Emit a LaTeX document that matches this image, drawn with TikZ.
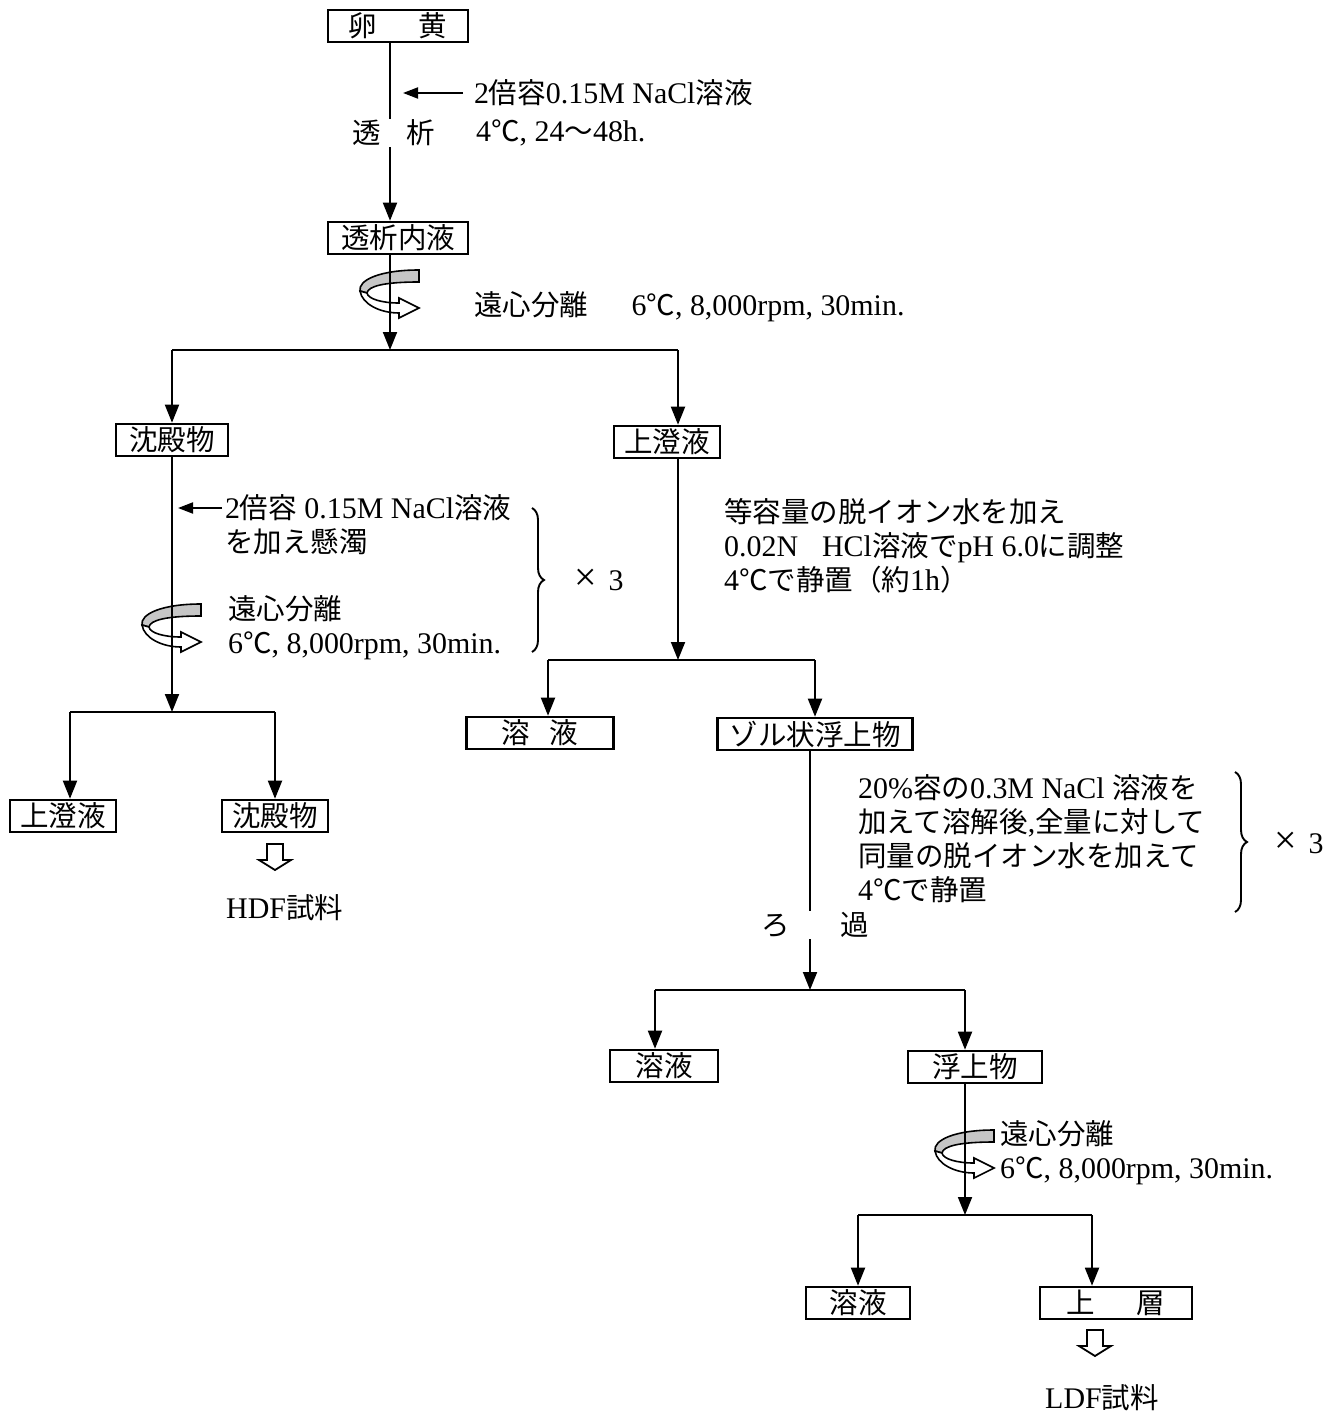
\documentclass[tikz,border=0pt]{standalone}
\usepackage{fontspec}
\setmainfont{Liberation Serif}[Scale=1.05]
\newfontfamily\jpfont{Noto Sans CJK JP}
\usetikzlibrary{arrows.meta,decorations.pathreplacing}

% switch to the Japanese font for CJK characters
\XeTeXinterchartokenstate=1
\newXeTeXintercharclass\jpclass
\count255="3000
\loop \XeTeXcharclass\count255=\jpclass \advance\count255 by 1 \ifnum\count255<"A000 \repeat
\count255="FF00
\loop \XeTeXcharclass\count255=\jpclass \advance\count255 by 1 \ifnum\count255<"FFF0 \repeat
\XeTeXcharclass"2103=\jpclass
\XeTeXinterchartoks 0 \jpclass = {\jpfont}
\XeTeXinterchartoks 4095 \jpclass = {\jpfont}
\XeTeXinterchartoks \jpclass 0 = {\rmfamily}
\XeTeXinterchartoks \jpclass 4095 = {\rmfamily}

\tikzset{
  box/.style={draw, line width=2.6pt, inner sep=0pt, minimum height=32pt},
  note/.style={anchor=west, inner sep=0pt, align=left},
  flow/.style={line width=1.9pt},
  arr/.style={flow, -{Triangle[length=18pt,width=14pt]}},
  sidearr/.style={flow, -{Triangle[length=15pt,width=11pt]}},
  brace/.style={flow, decorate, decoration={brace, amplitude=12pt}},
  spin/.pic={
    \filldraw[fill=gray!45, line width=1.6pt] (29,-20) .. controls (-10,-20) and (-32,-10) .. (-30,1) -- (-23,3) .. controls (-22,-4) and (-5,-8) .. (29,-8) -- cycle;
    \filldraw[fill=white, line width=1.6pt] (-30,1) .. controls (-28,14) and (-10,23) .. (9,23) -- (9,28) -- (29,18) -- (9,8) -- (9,13) .. controls (-8,13) and (-22,9) .. (-23,3) -- cycle;
  },
  hollow/.pic={
    \draw[line width=1.8pt] (-8,0) -- (-8,16) -- (-16,16) -- (0,26) -- (16,16) -- (8,16) -- (8,0) -- cycle;
  }
}

\begin{document}
\begin{tikzpicture}[x=1pt, y=-1pt, font=\fontsize{28.5}{34}\selectfont]
  \useasboundingbox (0,0) rectangle (1338,1415);

  % boxes
  \node[box, minimum width=140pt] (yolk) at (398,26) {卵\hspace{1.4em}黄};
  \node[box, minimum width=140pt] (inner) at (398,238) {透析内液};
  \node[box, minimum width=112pt] (ppt1) at (172,440) {沈殿物};
  \node[box, minimum width=106pt] (sup1) at (667,442) {上澄液};
  \node[box, minimum width=106pt] (sup2) at (63,816) {上澄液};
  \node[box, minimum width=106pt] (ppt2) at (275,816) {沈殿物};
  \node[box, minimum width=147pt] (sol1) at (540,733) {溶\hspace{0.65em}液};
  \node[box, minimum width=195pt] (sol) at (815,734) {ゾル状浮上物};
  \node[box, minimum width=108pt] (sol2) at (664,1066) {溶液};
  \node[box, minimum width=134pt] (float) at (975,1067) {浮上物};
  \node[box, minimum width=104pt] (sol3) at (858,1303) {溶液};
  \node[box, minimum width=152pt] (upper) at (1116,1303) {上\hspace{1.4em}層};

  % centrifuge marks
  \pic at (390,290) {spin};
  \pic at (172,624) {spin};
  \pic at (965,1150) {spin};

  % split points
  \coordinate (s1) at (390,350);
  \coordinate (b1l) at (172,350);
  \coordinate (b1r) at (678,350);
  \coordinate (s2) at (172,712);
  \coordinate (b2l) at (70,712);
  \coordinate (b2r) at (275,712);
  \coordinate (s3) at (678,660);
  \coordinate (b3l) at (548,660);
  \coordinate (b3r) at (815,660);
  \coordinate (s4) at (810,990);
  \coordinate (b4l) at (655,990);
  \coordinate (b4r) at (965,990);
  \coordinate (s5) at (965,1215);
  \coordinate (b5l) at (858,1215);
  \coordinate (b5r) at (1092,1215);
  \coordinate (in1) at (403,93);
  \coordinate (in2) at (178,508);

  \draw[arr] ([xshift=-8pt]yolk.south) -- ([xshift=-8pt]inner.north);
  \draw[arr] ([xshift=-8pt]inner.south) -- (s1);
  \draw[flow] (b1l) -- (b1r);
  \draw[arr] (b1l) -- (ppt1.north);
  \draw[arr] (b1r) -- ([xshift=11pt]sup1.north);

  \draw[arr] (ppt1.south) -- (s2);
  \draw[flow] (b2l) -- (b2r);
  \draw[arr] (b2l) -- ([xshift=7pt]sup2.north);
  \draw[arr] (b2r) -- (ppt2.north);

  \draw[arr] ([xshift=11pt]sup1.south) -- (s3);
  \draw[flow] (b3l) -- (b3r);
  \draw[arr] (b3l) -- ([xshift=8pt]sol1.north);
  \draw[arr] (b3r) -- (sol.north);

  \draw[arr] ([xshift=-5pt]sol.south) -- (s4);
  \draw[flow] (b4l) -- (b4r);
  \draw[arr] (b4l) -- ([xshift=-9pt]sol2.north);
  \draw[arr] (b4r) -- ([xshift=-10pt]float.north);

  \draw[arr] ([xshift=-10pt]float.south) -- (s5);
  \draw[flow] (b5l) -- (b5r);
  \draw[arr] (b5l) -- (sol3.north);
  \draw[arr] (b5r) -- ([xshift=-24pt]upper.north);

  % labels on the lines
  \node[fill=white, inner sep=1pt] (dia) at (394,133) {透\hspace{0.85em}析};
  \node[fill=white, inner sep=1pt] (filt) at (815,925) {ろ\hspace{1.7em}過};

  % notes
  \node[note, outer xsep=11pt] (add1) at (463,93) {2倍容0.15M NaCl溶液};
  \draw[sidearr] (add1.west) -- (in1);
  \node[note] (cond1) at (476,133) {4℃, 24～48h.};
  \node[note] (spin1) at (474,307) {遠心分離\hspace{1.45em}6℃, 8,000rpm, 30min.};

  \node[note, outer xsep=3pt] (add2) at (222,525) {2倍容 0.15M NaCl溶液\\を加え懸濁};
  \draw[sidearr] (add2.west |- in2) -- (in2);
  \node[note] (spin2) at (228,628) {遠心分離\\6℃, 8,000rpm, 30min.};
  \draw[brace] (532,508) -- (532,652);
  \node[note] (rep1) at (574,580) {{\fontsize{38}{34}\selectfont ×}\hspace{0.4em}3};

  \node[note] (adj) at (724,546) {等容量の脱イオン水を加え\\0.02N\hspace{0.8em}HCl溶液でpH 6.0に調整\\4℃で静置（約1h）};

  \node[note] (redis) at (858,839) {20\%容の0.3M NaCl 溶液を\\加えて溶解後,全量に対して\\同量の脱イオン水を加えて\\4℃で静置};
  \draw[brace] (1235,772) -- (1235,912);
  \node[note] (rep2) at (1274,843) {{\fontsize{38}{34}\selectfont ×}\hspace{0.4em}3};

  \node[note] (spin3) at (1000,1153) {遠心分離\\6℃, 8,000rpm, 30min.};

  % samples
  \pic at (275,844) {hollow};
  \node[note] (hdf) at (226,908) {HDF試料};
  \pic at (1095,1330) {hollow};
  \node[note] (ldf) at (1045,1398) {LDF試料};
\end{tikzpicture}
\end{document}
